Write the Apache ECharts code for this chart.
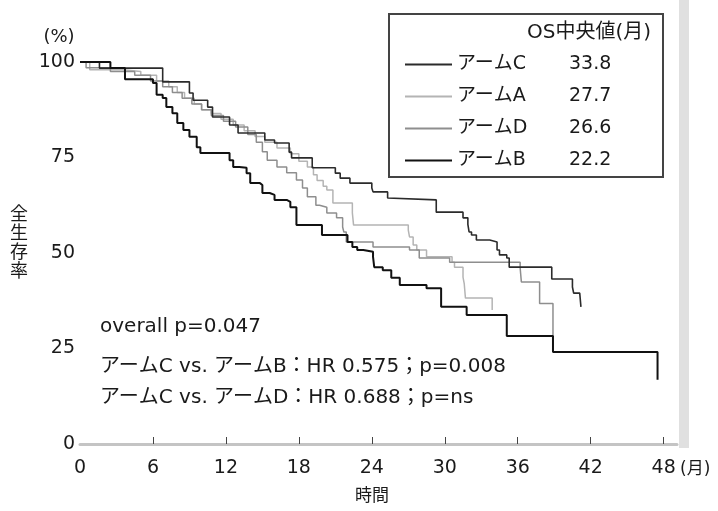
<!DOCTYPE html>
<html>
<head>
<meta charset="utf-8">
<script src="https://cdn.jsdelivr.net/npm/echarts@6/dist/echarts.min.js"></script>
<style>
  html, body { margin: 0; padding: 0; background: #fff; }
  #chart { width: 718px; height: 511px; }
</style>
</head>
<body>
<div id="chart"></div>
<script>
// 生存曲線データ [月, 生存率%]
var armC = [[0,100],[1.6,98.4],[6.8,94.8],[9.0,91.9],[9.3,90],[10.5,88.2],[10.9,85.6],[12.3,83.5],[13.0,81.4],[15.2,79.6],[16.0,78.8],[17.2,76.4],[17.4,74.9],[19.1,72.3],[21.0,70.9],[21.4,69.6],[22.2,68.3],[24.0,67.0],[24.1,66.0],[25.3,64.4],[25.4,63.9],[29.3,60.7],[31.5,59.2],[31.9,57.5],[32.0,55.5],[32.2,54.7],[32.6,53.4],[33.7,52.9],[34.3,50.8],[34.5,49.5],[35.1,48.7],[35.3,46.3],[38.8,43.2],[40.5,41.1],[40.6,39.5],[41.1,39.0],[41.2,35.9]];
var armA = [[0,100],[0.8,98],[3.5,97.5],[5.0,96.5],[6.3,95],[7.3,93.5],[8.0,92],[8.6,90.5],[9.4,89],[10.0,87.5],[10.8,86.5],[11.6,85],[12.6,83.5],[13.5,82],[14.4,80.5],[15.2,79],[16.2,77.5],[17.3,76],[18.0,74],[18.7,72.5],[19.2,70.5],[19.5,69],[20.0,67.5],[20.3,66.5],[20.8,63.1],[22.4,60.5],[22.5,57.3],[27.0,56.0],[27.1,54.2],[27.4,52.1],[27.7,50.8],[28.5,49.0],[30.6,47.6],[30.8,46.3],[31.5,43.7],[31.6,42],[31.7,38.2],[33.9,35.1]];
var armD = [[0,100],[0.5,98.5],[2.5,97.5],[4.5,96.5],[5.8,95],[6.8,93.5],[7.6,92],[8.4,90.5],[9.2,89],[10.0,87.5],[10.8,86],[11.8,84.5],[12.8,83],[13.8,81],[14.5,79],[15.0,76.5],[15.4,74.3],[16.2,72.5],[17.0,71],[17.8,69.1],[18.3,67],[18.7,64.7],[19.4,62.5],[19.7,62.0],[20.3,60.5],[21.1,59.2],[21.6,56.8],[21.7,55.5],[21.9,52.9],[24.1,51.6],[27.1,50.8],[27.9,48.7],[30.4,47.6],[36.2,46.1],[36.3,42.4],[37.8,36.8],[38.9,28.0]];
var armB = [[0,100],[2.5,98.4],[3.7,95.5],[6.0,94.5],[6.3,91.4],[6.8,90.6],[7.1,88.2],[7.6,86.6],[8.0,84.0],[8.5,82.2],[9.0,80.4],[9.6,77.7],[9.9,76.2],[12.3,74.3],[12.6,72.5],[13.1,72.3],[13.7,70.9],[14.0,68.3],[14.8,67.8],[15.0,65.7],[15.6,65.2],[16.0,63.9],[17.0,63.4],[17.3,62.0],[17.8,57.3],[19.9,54.7],[22.0,52.9],[22.4,51.6],[22.8,50.8],[23.3,50.3],[24.1,49.0],[24.2,46.3],[24.9,45.5],[25.6,43.5],[26.3,41.6],[28.5,40.8],[29.7,35.9],[31.8,33.8],[35.1,28.3],[38.9,24.1],[47.5,16.8]];

var armNames = ["アームC", "アームA", "アームD", "アームB"];
var medians = ["33.8", "27.7", "26.6", "22.2"];
var xTicks = [0, 6, 12, 18, 24, 30, 36, 42, 48];
var yTicks = [0, 25, 50, 75, 100];
var notes = ["overall p=0.047", "アームC vs. アームB：HR 0.575；p=0.008", "アームC vs. アームD：HR 0.688；p=ns"];

var font = "'DejaVu Sans', 'Noto Sans CJK JP'";
var colors = ["#2b2b2b", "#b4b4b4", "#8e8e8e", "#111111"];
var widths = [1.6, 1.5, 1.5, 2];
var curves = [armC, armA, armD, armB];

var myChart = echarts.init(document.getElementById("chart"));

var medianOf = {};
armNames.forEach(function (n, i) { medianOf[n] = medians[i]; });

function txt(x, y, s, size, align, extra) {
  var style = { text: s, font: size + "px " + font, fill: "#1a1a1a", align: align, verticalAlign: "middle" };
  if (extra) { for (var k in extra) style[k] = extra[k]; }
  return { type: "text", x: x, y: y, style: style, silent: true };
}

var option = {
  backgroundColor: "#fff",
  animation: false,
  textStyle: { fontFamily: font, color: "#1a1a1a" },
  grid: { left: 80, right: 41, top: 62, bottom: 67 },
  xAxis: {
    type: "value",
    min: 0,
    max: 49.1,
    splitLine: { show: false },
    axisLine: { show: true, lineStyle: { color: "#c4c4c4", width: 3 } },
    axisTick: { show: true, inside: true, length: 7, customValues: xTicks.slice(1), lineStyle: { color: "#444", width: 1 } },
    axisLabel: { customValues: xTicks, margin: 15, fontSize: 19, color: "#1a1a1a", fontFamily: font }
  },
  yAxis: {
    type: "value",
    min: 0,
    max: 100,
    interval: 25,
    splitLine: { show: false },
    axisLine: { show: false },
    axisTick: { show: false },
    axisLabel: { customValues: yTicks, margin: 5, fontSize: 19, color: "#1a1a1a", fontFamily: font }
  },
  legend: {
    orient: "vertical",
    left: 389,
    top: 14,
    padding: [41, 46, 7, 16],
    borderColor: "#444",
    borderWidth: 2,
    itemWidth: 47,
    itemHeight: 2,
    itemGap: 13,
    icon: "rect",
    selectedMode: false,
    data: armNames,
    formatter: function (name) {
      return "{n|" + name + "}{v|" + medianOf[name] + "}";
    },
    textStyle: {
      fontFamily: font,
      color: "#1a1a1a",
      rich: {
        n: { width: 112, fontSize: 19, lineHeight: 20, fontFamily: font, color: "#1a1a1a" },
        v: { width: 48, fontSize: 19, lineHeight: 20, fontFamily: font, color: "#1a1a1a" }
      }
    }
  },
  graphic: [
    { type: "rect", shape: { x: 679, y: 0, width: 10, height: 448 }, style: { fill: "#e0e0e0" }, silent: true },
    txt(651, 33, "OS中央値(月)", 20, "right"),
    txt(59, 37, "(%)", 18, "center"),
    txt(680, 470, "(月)", 17, "left"),
    txt(372, 497, "時間", 17, "center"),
    txt(19, 244, "全\n生\n存\n率", 18, "center", { lineHeight: 19 }),
    txt(100, 327, notes[0], 20, "left"),
    txt(100, 367, notes[1], 20, "left"),
    txt(100, 398, notes[2], 20, "left")
  ],
  series: armNames.map(function (name, i) {
    return {
      name: name,
      type: "line",
      step: "end",
      showSymbol: false,
      color: colors[i],
      z: i === 0 || i === 3 ? 3 : 2,
      lineStyle: { color: colors[i], width: widths[i] },
      data: curves[i]
    };
  })
};

myChart.setOption(option);
</script>
</body>
</html>
